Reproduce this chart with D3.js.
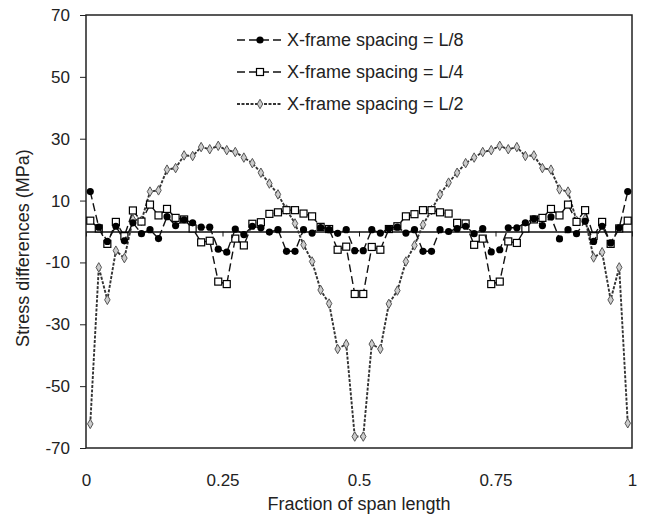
<!DOCTYPE html>
<html>
<head>
<meta charset="utf-8">
<script src="https://cdn.jsdelivr.net/npm/d3@7"></script>
<style>
  body { margin: 0; background: #fff; }
  text { font-family: "Liberation Sans", Arial, sans-serif; fill: #222; }
</style>
</head>
<body>
<div id="chart"></div>
<script>
var width = 645;
var height = 517;

// stations along the span (midpoints of 64 segments)
var fractions = [0.0078, 0.0234, 0.0391, 0.0547, 0.0703, 0.0859, 0.1016, 0.1172,
  0.1328, 0.1484, 0.1641, 0.1797, 0.1953, 0.2109, 0.2266, 0.2422,
  0.2578, 0.2734, 0.2891, 0.3047, 0.3203, 0.3359, 0.3516, 0.3672,
  0.3828, 0.3984, 0.4141, 0.4297, 0.4453, 0.4609, 0.4766, 0.4922,
  0.5078, 0.5234, 0.5391, 0.5547, 0.5703, 0.5859, 0.6016, 0.6172,
  0.6328, 0.6484, 0.6641, 0.6797, 0.6953, 0.7109, 0.7266, 0.7422,
  0.7578, 0.7734, 0.7891, 0.8047, 0.8203, 0.8359, 0.8516, 0.8672,
  0.8828, 0.8984, 0.9141, 0.9297, 0.9453, 0.9609, 0.9766, 0.9922];

// X-frame spacing = L/8
var spacingL8 = [12.9, 1.4, -3.2, 1.7, -3.0, 2.8, -0.7, 0.6,
  -2.3, 4.8, 1.9, 3.8, 2.8, 1.4, 1.4, -5.7,
  -6.7, 0.8, -1.0, 1.7, 1.2, -0.2, 0.6, -6.4,
  -6.4, 0.6, -0.5, 1.3, 0.6, -0.6, 0.6, -6.2,
  -6.2, 0.6, -0.5, 0.9, 1.4, -0.5, 0.6, -6.4,
  -6.4, 0.6, 0.0, 0.9, 1.7, -0.7, 0.9, -6.6,
  -5.9, 1.2, 1.2, 2.8, 4.1, 1.9, 4.7, -2.4,
  0.6, -0.7, 3.3, -3.2, 1.7, -3.7, 1.2, 12.9];

// X-frame spacing = L/4
var spacingL4 = [3.5, 1.0, -4.0, 3.1, -1.5, 6.8, 3.2, 8.7,
  5.2, 7.3, 4.4, 3.9, 1.0, -3.5, -3.0, -16.2,
  -17.0, -2.3, -4.5, 2.5, 3.0, 5.7, 6.2, 6.9,
  6.9, 5.8, 4.9, 1.5, 0.8, -5.9, -4.9, -20.2,
  -20.2, -5.0, -5.9, 0.8, 1.7, 4.9, 5.6, 6.9,
  6.9, 6.2, 5.8, 2.8, 2.6, -4.3, -2.3, -17.0,
  -16.2, -3.2, -3.7, 1.0, 3.9, 4.4, 7.3, 5.2,
  8.7, 3.1, 6.9, -1.5, 3.1, -4.0, 1.0, 3.5];

// X-frame spacing = L/2
var spacingL2 = [-62.2, -11.6, -22.1, -6.2, -8.6, 3.9, 3.5, 12.9,
  13.3, 20.0, 20.5, 24.6, 24.4, 27.3, 26.6, 27.7,
  26.3, 25.7, 23.9, 22.1, 19.0, 15.5, 12.0, 7.1,
  2.6, -4.3, -9.7, -18.9, -23.3, -38.0, -36.4, -66.3,
  -66.3, -36.4, -38.0, -23.4, -19.1, -9.7, -4.5, 2.2,
  6.9, 12.0, 15.8, 19.0, 22.1, 23.9, 25.7, 26.3,
  27.7, 26.6, 27.3, 24.4, 24.6, 20.5, 20.0, 13.6,
  12.9, 3.5, 4.1, -8.4, -6.7, -22.1, -11.6, -62.0];

var seriesNames = ["X-frame spacing = L/8", "X-frame spacing = L/4", "X-frame spacing = L/2"];
var xTicks = [0, 0.25, 0.5, 0.75, 1];
var yTicks = [-70, -50, -30, -10, 10, 30, 50, 70];

// plot area edges (note: "top" is reserved on window)
var plotLeft = 86, plotRight = 632, plotTop = 15, plotBottom = 448;

var x = d3.scaleLinear().domain([0, 1]).range([plotLeft, plotRight]);
var y = d3.scaleLinear().domain([-70, 70]).range([plotBottom, plotTop]);

var svg = d3.select("#chart")
  .append("svg")
  .attr("width", width)
  .attr("height", height);

svg.append("rect")
  .attr("width", width)
  .attr("height", height)
  .attr("fill", "white");

// y axis ticks + labels
var yAxis = svg.append("g")
  .attr("transform", `translate(${plotLeft},0)`)
  .call(d3.axisLeft(y)
    .tickValues(yTicks)
    .tickSize(6)
    .tickSizeOuter(0)
    .tickPadding(10)
    .tickFormat(d => String(d)));
yAxis.select(".domain").remove();
yAxis.selectAll("line").attr("stroke", "#222");
yAxis.selectAll("text")
  .attr("font-size", "17px")
  .attr("fill", "#222")
  .style("font-family", '"Liberation Sans", Arial, sans-serif');

// x labels sit below the plot
var xAxis = svg.append("g")
  .attr("transform", `translate(0,${plotBottom})`)
  .call(d3.axisBottom(x)
    .tickValues(xTicks)
    .tickSize(0)
    .tickPadding(26)
    .tickFormat(d => String(d)));
xAxis.select(".domain").remove();
xAxis.selectAll("text")
  .attr("font-size", "17px")
  .attr("fill", "#222")
  .style("font-family", '"Liberation Sans", Arial, sans-serif');

// zero line with small ticks
var zeroAxis = svg.append("g")
  .attr("transform", `translate(0,${y(0)})`)
  .call(d3.axisBottom(x)
    .tickValues(xTicks)
    .tickSize(5)
    .tickSizeOuter(0)
    .tickFormat(""));
zeroAxis.select(".domain").attr("stroke", "#111").attr("stroke-width", 1.3);
zeroAxis.selectAll("line").attr("stroke", "#111");

// plot frame
svg.append("rect")
  .attr("x", plotLeft)
  .attr("y", plotTop)
  .attr("width", plotRight - plotLeft)
  .attr("height", plotBottom - plotTop)
  .attr("fill", "none")
  .attr("stroke", "#222")
  .attr("stroke-width", 1.5);

// axis titles
svg.append("text")
  .attr("x", (plotLeft + plotRight) / 2)
  .attr("y", 504)
  .attr("text-anchor", "middle")
  .attr("dominant-baseline", "central")
  .attr("font-size", "18px")
  .text("Fraction of span length");

svg.append("text")
  .attr("transform", "translate(23,248) rotate(-90)")
  .attr("text-anchor", "middle")
  .attr("dominant-baseline", "central")
  .attr("font-size", "18px")
  .text("Stress differences (MPa)");

var styles = [
  {values: spacingL8, dash: "8,4", stroke: "#111", width: 1.4, marker: "circle"},
  {values: spacingL4, dash: "8,4", stroke: "#111", width: 1.4, marker: "square"},
  {values: spacingL2, dash: "3,1.5", stroke: "#333", width: 1.9, marker: "diamond"}
];

var line = d3.line()
  .x(d => x(d[0]))
  .y(d => y(d[1]));

function drawMarker(g, kind) {
  if (kind === "circle") {
    g.append("circle").attr("r", 3.6).attr("fill", "#000");
  } else if (kind === "square") {
    g.append("rect")
      .attr("x", -3.5).attr("y", -3.5)
      .attr("width", 7).attr("height", 7)
      .attr("fill", "white")
      .attr("stroke", "#000")
      .attr("stroke-width", 1.2);
  } else {
    g.append("path")
      .attr("d", d3.symbol().type(d3.symbolDiamond).size(26)())
      .attr("fill", "#ccc")
      .attr("stroke", "#555")
      .attr("stroke-width", 1);
  }
}

// draw L/2 first so the L/8 markers end up on top
[2, 1, 0].forEach(k => {
  var s = styles[k];
  var pts = fractions.map((f, i) => [f, s.values[i]]);
  var g = svg.append("g").attr("class", "series");
  g.append("path")
    .attr("d", line(pts))
    .attr("fill", "none")
    .attr("stroke", s.stroke)
    .attr("stroke-width", s.width)
    .attr("stroke-dasharray", s.dash);
  g.selectAll("g.pt")
    .data(pts)
    .enter()
    .append("g")
    .attr("class", "pt")
    .attr("transform", d => `translate(${x(d[0])},${y(d[1])})`)
    .each(function() { drawMarker(d3.select(this), s.marker); });
});

// legend
var legend = svg.append("g").attr("class", "legend");
var legendRows = [40, 72, 104];
seriesNames.forEach((name, k) => {
  var s = styles[k];
  var row = legend.append("g").attr("transform", `translate(0,${legendRows[k]})`);
  row.append("rect")
    .attr("x", 232).attr("y", -12)
    .attr("width", 250).attr("height", 24)
    .attr("fill", "white");
  row.append("line")
    .attr("x1", 237).attr("x2", 282)
    .attr("stroke", s.stroke)
    .attr("stroke-width", s.width)
    .attr("stroke-dasharray", s.dash);
  var m = row.append("g").attr("transform", "translate(260,0)");
  drawMarker(m, s.marker);
  row.append("text")
    .attr("x", 287)
    .attr("dominant-baseline", "central")
    .attr("font-size", "18px")
    .text(name);
});
</script>
</body>
</html>
